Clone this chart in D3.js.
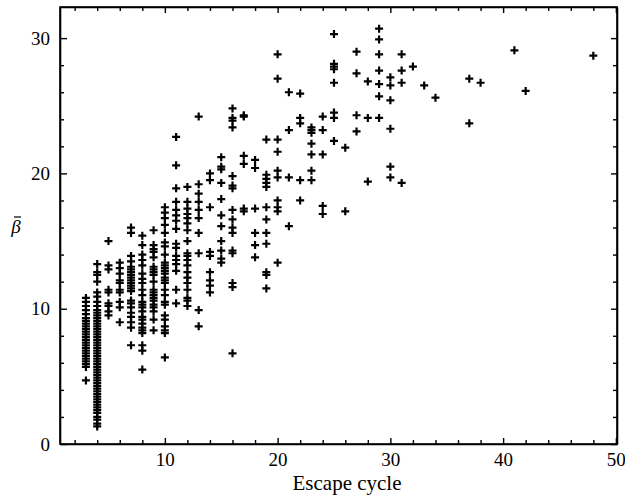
<!DOCTYPE html>
<html>
<head>
<meta charset="utf-8">
<script src="https://cdn.jsdelivr.net/npm/d3@7"></script>
<style>
  html, body { margin: 0; padding: 0; background: #fff; }
  svg { display: block; }
</style>
</head>
<body>
<svg id="chart" width="625" height="497"></svg>
<script>
// ---- data ----
const cycles = [3,4,5,6,7,8,9,10,11,12,13,14,15,16,17,18,19,20,21,22,23,24,25,26,27,28,29,30,31,32,33,34,37,38,41,42,48];
const betaByCycle = [
  [10.8,10.5,10.2,9.9,9.6,9.3,9.1,8.9,8.7,8.5,8.3,8.1,7.9,7.7,7.5,7.3,7.1,6.9,6.7,6.5,6.3,6.1,5.9,5.7,4.7],
  [13.3,12.7,12.5,12.0,11.2,10.9,10.5,10.2,9.9,9.7,9.5,9.3,9.1,8.9,8.7,8.5,8.3,8.1,7.9,7.7,7.5,7.3,7.1,6.9,6.7,6.5,6.3,6.1,5.9,5.7,5.5,5.3,5.1,4.9,4.7,4.5,4.3,4.1,3.9,3.7,3.5,3.3,3.1,2.9,2.7,2.5,2.3,2.0,1.8,1.5,1.3],
  [15.0,13.2,12.9,11.4,11.2,10.4,10.2,9.8,9.5],
  [13.4,13.0,12.6,12.1,11.9,11.4,11.2,10.5,10.1,9.0],
  [16.0,15.6,13.9,13.5,13.1,12.9,12.7,12.5,12.3,12.1,11.9,11.7,11.5,11.3,10.6,10.4,10.1,9.7,9.4,9.0,8.6,7.3],
  [15.4,14.7,14.0,13.6,13.2,12.6,12.2,11.9,11.4,11.0,10.5,10.3,10.1,9.8,9.4,9.2,8.9,8.6,8.4,8.2,7.3,6.9,5.5],
  [15.8,14.7,14.4,14.2,13.8,13.1,12.9,12.7,12.5,12.0,11.4,11.2,11.0,10.8,10.6,10.3,10.1,9.8,9.2,8.4],
  [17.5,17.1,16.7,16.2,15.6,14.9,14.6,14.0,13.4,13.2,13.0,12.8,12.6,12.3,12.1,11.9,11.4,11.0,10.5,10.3,9.5,9.2,8.7,8.4,8.2,6.4],
  [22.7,20.6,18.9,17.9,17.3,16.9,16.5,15.9,14.8,14.5,13.9,13.6,13.3,12.8,11.4,10.4],
  [19.0,17.9,17.4,17.0,16.7,16.3,15.8,15.0,14.1,13.9,13.6,13.2,12.7,12.3,11.9,11.4,10.8,10.6,10.2],
  [24.2,19.2,18.5,17.9,17.3,16.7,15.6,14.1,9.9,8.7],
  [20.0,19.5,17.5,14.2,13.9,12.7,12.1,11.7,11.2],
  [21.2,20.5,20.3,19.3,18.1,16.9,16.1,15.0,14.3,13.7,13.4],
  [24.8,24.1,23.9,23.4,19.8,19.1,18.9,17.3,16.6,16.0,15.6,14.3,14.1,11.9,11.6,6.7],
  [24.3,24.2,21.3,20.7,17.4,17.2],
  [21.0,20.4,17.4,15.6,14.7,13.8],
  [22.5,19.9,19.6,19.3,19.0,17.5,16.6,15.6,14.8,12.7,12.5,11.5],
  [28.8,27.0,22.5,21.6,20.2,19.7,18.0,17.5,17.2,13.4],
  [26.0,23.2,19.7,16.1],
  [25.9,24.1,23.7,19.5,18.0],
  [23.4,23.2,23.0,22.2,21.4,20.2,19.5],
  [24.2,23.2,21.4,17.6,17.0],
  [30.3,28.1,27.9,27.7,26.7,24.5,24.1,22.4],
  [21.9,17.2],
  [29.0,27.4,24.3,23.1],
  [26.8,24.1,19.4],
  [30.7,29.9,28.8,27.6,26.6,25.7,24.1],
  [27.1,26.5,25.4,23.3,20.5,19.7],
  [28.8,27.6,26.7,19.3],
  [27.9],
  [26.5],
  [25.6],
  [27.0,23.7],
  [26.7],
  [29.1],
  [26.1],
  [28.7]
];
const xMajorTicks = [10,20,30,40,50];
const yMajorTicks = [0,10,20,30];
const xTitle = "Escape cycle";
const yTitle = "\u03B2";

const points = [];
cycles.forEach((c, i) => betaByCycle[i].forEach(b => points.push({x: c, y: b})));

// ---- layout ----
const FONT = '"Liberation Serif"';
const svg = d3.select("#chart");
const mLeft = 60, mRight = 617, mTop = 7, mBottom = 444;
const x = d3.scaleLinear().domain([0.7, 50.1]).range([mLeft, mRight]);
const y = d3.scaleLinear().domain([0, 32.3]).range([mBottom, mTop]);

const xMinor = d3.range(2, 51, 2).filter(v => v % 10 !== 0);
const yMinor = d3.range(2, 32, 2).filter(v => v % 10 !== 0);

function styleAxis(g) {
  g.attr("font-family", null).attr("font-size", null);
  g.selectAll("path.domain").attr("stroke", "#000").attr("stroke-width", 1.6);
  g.selectAll(".tick line").attr("stroke", "#000").attr("stroke-width", 1.4);
  g.selectAll(".tick text").style("font-family", FONT).style("font-size", "19px").attr("fill", "#000");
}

// bottom
const gb = svg.append("g").attr("transform", `translate(0,${mBottom})`)
  .call(d3.axisBottom(x).tickValues(xMajorTicks).tickSizeInner(-6).tickSizeOuter(0).tickPadding(9).tickFormat(d3.format("d")));
styleAxis(gb);
svg.append("g").attr("transform", `translate(0,${mBottom})`)
  .call(d3.axisBottom(x).tickValues(xMinor).tickSizeInner(-4).tickSizeOuter(0).tickFormat(""))
  .call(g => { g.select(".domain").remove(); styleAxis(g); });
// top
const gt = svg.append("g").attr("transform", `translate(0,${mTop})`)
  .call(d3.axisTop(x).tickValues(xMajorTicks).tickSizeInner(-6).tickSizeOuter(0).tickFormat(""));
styleAxis(gt);
svg.append("g").attr("transform", `translate(0,${mTop})`)
  .call(d3.axisTop(x).tickValues(xMinor).tickSizeInner(-4).tickSizeOuter(0).tickFormat(""))
  .call(g => { g.select(".domain").remove(); styleAxis(g); });
// left
const gl = svg.append("g").attr("transform", `translate(${mLeft},0)`)
  .call(d3.axisLeft(y).tickValues(yMajorTicks).tickSizeInner(-7).tickSizeOuter(0).tickPadding(10).tickFormat(d3.format("d")));
styleAxis(gl);
svg.append("g").attr("transform", `translate(${mLeft},0)`)
  .call(d3.axisLeft(y).tickValues(yMinor).tickSizeInner(-4).tickSizeOuter(0).tickFormat(""))
  .call(g => { g.select(".domain").remove(); styleAxis(g); });
// right
const gr = svg.append("g").attr("transform", `translate(${mRight},0)`)
  .call(d3.axisRight(y).tickValues(yMajorTicks).tickSizeInner(-6).tickSizeOuter(0).tickFormat(""));
styleAxis(gr);
svg.append("g").attr("transform", `translate(${mRight},0)`)
  .call(d3.axisRight(y).tickValues(yMinor).tickSizeInner(-4).tickSizeOuter(0).tickFormat(""))
  .call(g => { g.select(".domain").remove(); styleAxis(g); });

// frame to close corners
svg.append("rect").attr("x", mLeft).attr("y", mTop).attr("width", mRight - mLeft).attr("height", mBottom - mTop)
  .attr("fill", "none").attr("stroke", "#000").attr("stroke-width", 1.6);

// points
svg.append("g").selectAll("path").data(points).join("path")
  .attr("transform", d => `translate(${x(d.x)},${y(d.y)})`)
  .attr("d", "M-4,0H4M0,-4V4")
  .attr("stroke", "#000").attr("stroke-width", 2.2).attr("fill", "none");

// titles
svg.append("text").attr("x", 347).attr("y", 490).attr("text-anchor", "middle")
  .style("font-family", FONT).style("font-size", "21px").attr("fill", "#000").text(xTitle);
svg.append("text").attr("x", 16).attr("y", 233).attr("text-anchor", "middle")
  .style("font-family", FONT).style("font-size", "19px").style("font-style", "italic").attr("fill", "#000").text(yTitle);
svg.append("line").attr("x1", 14).attr("x2", 21).attr("y1", 217).attr("y2", 217)
  .attr("stroke", "#000").attr("stroke-width", 1.2);
</script>
</body>
</html>
